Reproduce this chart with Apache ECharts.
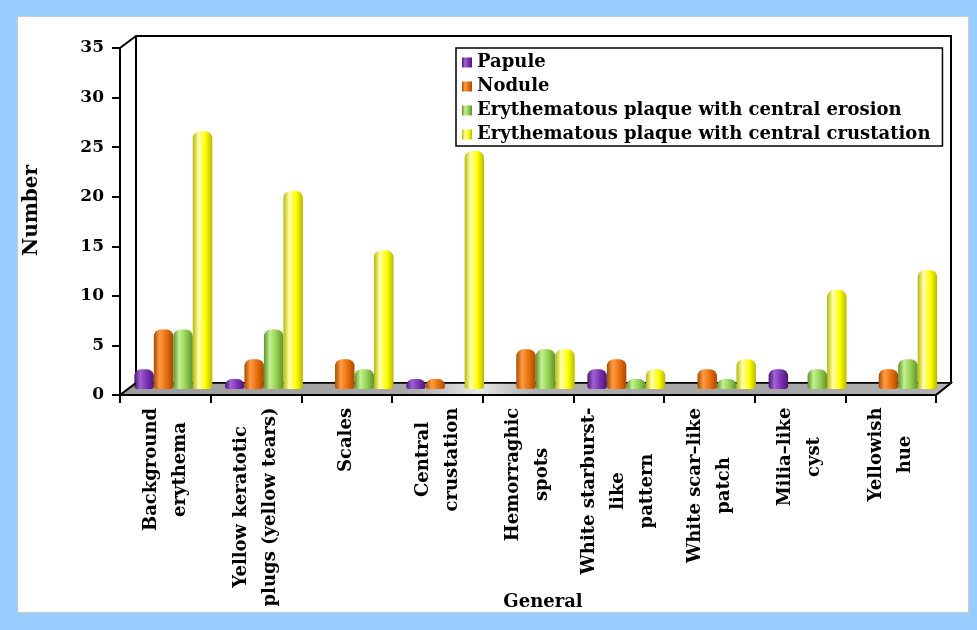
<!DOCTYPE html>
<html>
<head>
<meta charset="utf-8">
<script src="https://cdn.jsdelivr.net/npm/echarts@6/dist/echarts.min.js"></script>
<style>
  html, body { margin:0; padding:0; background:#99ccff; }
  #panel { position:absolute; left:17px; top:16px; width:950px; height:595px; background:#fff; border:1px solid #c4ccd4; }
  #chart { position:absolute; left:0; top:0; width:977px; height:630px; }
</style>
</head>
<body>
<div id="panel"></div>
<div id="chart"></div>
<script>
const categories = [
  "Background\nerythema",
  "Yellow keratotic\nplugs (yellow tears)",
  "Scales",
  "Central\ncrustation",
  "Hemorraghic\nspots",
  "White starburst-\nlike\npattern",
  "White scar–like\npatch",
  "Milia–like\ncyst",
  "Yellowish\nhue"
];
const seriesNames = [
  "Papule",
  "Nodule",
  "Erythematous plaque with central erosion",
  "Erythematous plaque with central crustation"
];
const papule     = [2, 1, 0, 1, 0, 2, 0, 2, 0];
const nodule     = [6, 3, 3, 1, 4, 3, 2, 0, 2];
const erosion    = [6, 6, 2, 0, 4, 1, 1, 2, 3];
const crustation = [26, 20, 14, 24, 4, 2, 3, 10, 12];
const yTicks = { min: 0, max: 35, interval: 5 };

const FONT = '"DejaVu Serif", "Liberation Serif", serif';
const XLABEL_SIZE = 18;

// layout (front axis plane, back wall plane, bar plane between)
const W = 977, H = 630;
const front = { l: 120, t: 48, r: 936, b: 395 };
const back  = { l: 136, t: 36, r: 951, b: 383 };
const mid   = { l: (front.l + back.l) / 2, t: (front.t + back.t) / 2, r: (front.r + back.r) / 2, b: (front.b + back.b) / 2 };

function grad(dark, light, base) {
  return { type: 'linear', x: 0, y: 0, x2: 1, y2: 0,
    colorStops: [
      { offset: 0, color: dark },
      { offset: 0.3, color: light },
      { offset: 0.65, color: base },
      { offset: 1, color: dark }
    ] };
}
const colors = [
  grad('#4a1870', '#a062d6', '#7a30b0'),
  grad('#a84a00', '#ff9c45', '#e86e0c'),
  grad('#5e922c', '#c4f092', '#92d050'),
  grad('#b8b800', '#ffffb0', '#ffff00')
];
const values = [papule, nodule, erosion, crustation];

// per-label rich styles so that lines are centred on each other
const ctx = document.createElement('canvas').getContext('2d');
ctx.font = 'bold ' + XLABEL_SIZE + 'px ' + FONT;
const rich = {};
categories.forEach((c, i) => {
  const w = Math.max(...c.split('\n').map(s => ctx.measureText(s).width));
  rich['c' + i] = { width: Math.ceil(w) + 1, align: 'center', fontFamily: FONT, fontWeight: 'bold',
    fontSize: XLABEL_SIZE, lineHeight: 29, color: '#000' };
});

const chart = echarts.init(document.getElementById('chart'), null, { renderer: 'canvas' });

const series = values.map((v, i) => ({
  name: seriesNames[i],
  type: 'bar',
  xAxisIndex: 2, yAxisIndex: 2,
  data: v,
  barGap: '0%',
  barCategoryGap: '14%',
  z: 3,
  itemStyle: { color: colors[i], borderRadius: [7, 7, 3, 3] }
}));

chart.setOption({
  animation: false,
  grid: [
    { left: front.l, top: front.t, right: W - front.r, bottom: H - front.b, show: false, containLabel: false, outerBoundsMode: 'none' },
    { left: back.l, top: back.t, right: W - back.r, bottom: H - back.b, show: true, containLabel: false, outerBoundsMode: 'none',
      backgroundColor: '#fff', borderColor: '#000', borderWidth: 2, z: 0 },
    { left: mid.l, top: mid.t, right: W - mid.r, bottom: H - mid.b, show: false, containLabel: false, outerBoundsMode: 'none' }
  ],
  legend: {
    orient: 'vertical',
    left: 456, top: 48,
    padding: [5, 12, 2, 6],
    itemGap: 5,
    itemWidth: 10, itemHeight: 10,
    icon: 'rect',
    backgroundColor: '#fff',
    borderColor: '#000', borderWidth: 1.5,
    textStyle: { fontFamily: FONT, fontWeight: 'bold', fontSize: 18, lineHeight: 19, color: '#000' },
    data: seriesNames,
    z: 10
  },
  xAxis: [
    { type: 'category', gridIndex: 0, data: categories, z: 6,
      axisLine: { lineStyle: { color: '#000', width: 2 } },
      axisTick: { show: true, length: 8, lineStyle: { color: '#000', width: 2 } },
      axisLabel: {
        rotate: 90, margin: 12, interval: 0,
        formatter: (v, idx) => v.split('\n').map(s => '{c' + idx + '|' + s + '}').join('\n'),
        rich: rich
      },
      name: 'General', nameLocation: 'middle', nameGap: 198, nameMoveOverlap: false,
      nameTextStyle: { fontFamily: FONT, fontWeight: 'bold', fontSize: 18, color: '#000', padding: [0, 0, 0, 30] }
    },
    { type: 'category', gridIndex: 1, data: categories, show: false },
    { type: 'category', gridIndex: 2, data: categories, show: false }
  ],
  yAxis: [
    { type: 'value', gridIndex: 0, min: yTicks.min, max: yTicks.max, interval: yTicks.interval, z: 6,
      axisLine: { show: true, lineStyle: { color: '#000', width: 2 } },
      axisTick: { show: true, length: 8, lineStyle: { color: '#000', width: 2 } },
      splitLine: { show: false },
      axisLabel: { margin: 16, fontFamily: FONT, fontWeight: 'bold', fontSize: 17, color: '#000' },
      name: 'Number', nameLocation: 'middle', nameGap: 78, nameMoveOverlap: false,
      nameTextStyle: { fontFamily: FONT, fontWeight: 'bold', fontSize: 20, color: '#000', padding: [0, 0, 0, 22] }
    },
    { type: 'value', gridIndex: 1, min: yTicks.min, max: yTicks.max, show: false, splitLine: { show: false } },
    { type: 'value', gridIndex: 2, min: yTicks.min, max: yTicks.max, show: false, splitLine: { show: false } }
  ],
  graphic: [
    { type: 'polygon', z: 1,
      shape: { points: [[front.l, front.b], [back.l, back.b], [back.r, back.b], [front.r, front.b]] },
      style: { fill: { type: 'linear', x: 0, y: 0, x2: 1, y2: 0, colorStops: [
        { offset: 0, color: '#9c9c9c' }, { offset: 0.35, color: '#a8a8a8' },
        { offset: 0.43, color: '#e8e8e8' }, { offset: 0.5, color: '#b0b0b0' },
        { offset: 0.75, color: '#a4a4a4' }, { offset: 1, color: '#b4b4b4' } ] },
        stroke: '#000', lineWidth: 1.5 } },
    { type: 'line', z: 5, shape: { x1: front.l, y1: front.t, x2: back.l, y2: back.t }, style: { stroke: '#000', lineWidth: 2 } },
    { type: 'line', z: 5, shape: { x1: front.l, y1: front.b, x2: back.l, y2: back.b }, style: { stroke: '#000', lineWidth: 2 } },
    { type: 'line', z: 5, shape: { x1: front.r, y1: front.b, x2: back.r, y2: back.b }, style: { stroke: '#000', lineWidth: 2 } }
  ],
  series: series
});
</script>
</body>
</html>
